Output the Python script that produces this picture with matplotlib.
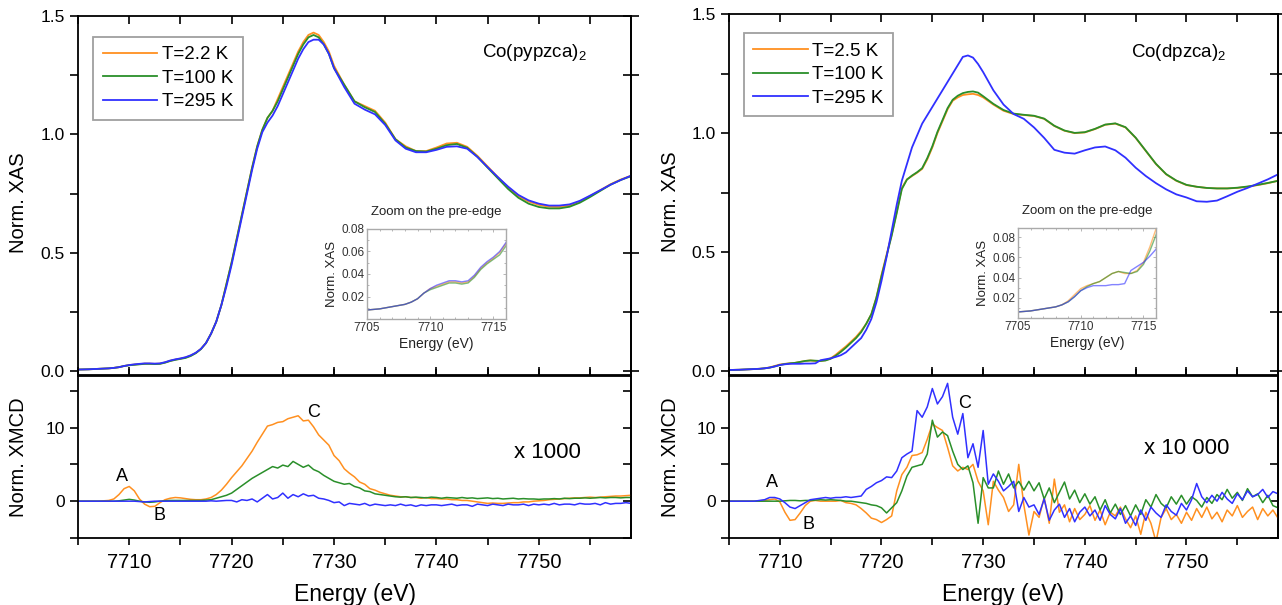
import numpy as np
import matplotlib
matplotlib.use("Agg")
import matplotlib.pyplot as plt
from matplotlib.ticker import MultipleLocator

plt.rcParams["font.family"] = ["Liberation Sans", "DejaVu Sans"]
plt.rcParams["mathtext.fontset"] = "custom"
plt.rcParams["mathtext.rm"] = "Liberation Sans"
plt.rcParams["mathtext.it"] = "Liberation Sans:italic"

ORANGE = "#ff9020"
GREEN = "#2a8f2a"
BLUE = "#3030ff"

# ---------------------------------------------------------------------------
# XAS data (0.5 eV steps up to 7730, then 1 eV steps)
# ---------------------------------------------------------------------------
energy_xas = np.concatenate([np.arange(7705, 7730, 0.5), np.arange(7730, 7760, 1.0)])

labels_left = ["T=2.2 K", "T=100 K", "T=295 K"]
labels_right = ["T=2.5 K", "T=100 K", "T=295 K"]

xas_left_2K = [
    0.008, 0.0085, 0.009, 0.010, 0.011, 0.012, 0.013, 0.015, 0.018, 0.023,
    0.027, 0.029, 0.031, 0.033, 0.033, 0.032, 0.033, 0.038, 0.045, 0.050,
    0.054, 0.059, 0.067, 0.078, 0.095, 0.12, 0.16, 0.21, 0.28, 0.37,
    0.46, 0.56, 0.66, 0.76, 0.86, 0.95, 1.02, 1.07, 1.10, 1.15,
    1.20, 1.25, 1.30, 1.35, 1.39, 1.42, 1.43, 1.42, 1.39, 1.35,
    1.29, 1.21, 1.14, 1.12, 1.10, 1.05, 0.98, 0.95, 0.93, 0.93,
    0.945, 0.962, 0.965, 0.948, 0.91, 0.865, 0.82, 0.777, 0.74, 0.717,
    0.703, 0.695, 0.694, 0.70, 0.717, 0.74, 0.765, 0.79, 0.81, 0.826,
]
xas_left_100K = [
    0.008, 0.0085, 0.009, 0.010, 0.011, 0.012, 0.013, 0.015, 0.018, 0.023,
    0.026, 0.028, 0.030, 0.032, 0.032, 0.031, 0.032, 0.037, 0.044, 0.049,
    0.053, 0.057, 0.065, 0.077, 0.094, 0.12, 0.16, 0.21, 0.28, 0.37,
    0.46, 0.56, 0.66, 0.76, 0.86, 0.95, 1.02, 1.07, 1.10, 1.14,
    1.19, 1.24, 1.29, 1.34, 1.38, 1.41, 1.42, 1.41, 1.38, 1.34,
    1.28, 1.21, 1.14, 1.115, 1.095, 1.045, 0.98, 0.945, 0.93, 0.928,
    0.94, 0.955, 0.96, 0.944, 0.906, 0.86, 0.815, 0.77, 0.733, 0.708,
    0.694, 0.688, 0.688, 0.695, 0.712, 0.736, 0.762, 0.788, 0.808, 0.824,
]
xas_left_295K = [
    0.008, 0.0085, 0.009, 0.010, 0.011, 0.012, 0.013, 0.015, 0.018, 0.023,
    0.027, 0.030, 0.032, 0.034, 0.034, 0.033, 0.034, 0.039, 0.046, 0.051,
    0.055, 0.060, 0.068, 0.079, 0.095, 0.12, 0.16, 0.21, 0.28, 0.36,
    0.45, 0.55, 0.65, 0.75, 0.85, 0.94, 1.01, 1.05, 1.08, 1.12,
    1.17, 1.22, 1.27, 1.32, 1.36, 1.39, 1.40, 1.40, 1.38, 1.34,
    1.28, 1.20, 1.13, 1.105, 1.085, 1.04, 0.975, 0.94, 0.925, 0.925,
    0.935, 0.948, 0.95, 0.94, 0.905, 0.862, 0.82, 0.78, 0.745, 0.722,
    0.708, 0.70, 0.70, 0.705, 0.72, 0.742, 0.765, 0.788, 0.808, 0.826,
]

xas_right_2K = [
    0.006, 0.0065, 0.007, 0.008, 0.009, 0.010, 0.011, 0.013, 0.017, 0.023,
    0.029, 0.032, 0.034, 0.036, 0.040, 0.044, 0.046, 0.044, 0.044, 0.047,
    0.055, 0.07, 0.088, 0.105, 0.125, 0.145, 0.17, 0.20, 0.24, 0.31,
    0.405, 0.49, 0.574, 0.67, 0.77, 0.806, 0.82, 0.834, 0.85, 0.89,
    0.94, 1.00, 1.05, 1.10, 1.136, 1.15, 1.16, 1.163, 1.165, 1.16,
    1.15, 1.12, 1.094, 1.08, 1.076, 1.072, 1.06, 1.03, 1.01, 1.0,
    1.003, 1.017, 1.035, 1.04, 1.024, 0.98, 0.925, 0.87, 0.827, 0.80,
    0.782, 0.775, 0.77, 0.768, 0.768, 0.77, 0.775, 0.782, 0.79, 0.80,
]
xas_right_100K = [
    0.006, 0.0065, 0.007, 0.008, 0.009, 0.010, 0.011, 0.013, 0.016, 0.021,
    0.027, 0.031, 0.034, 0.036, 0.040, 0.044, 0.046, 0.045, 0.044, 0.046,
    0.053, 0.066, 0.082, 0.10, 0.12, 0.14, 0.165, 0.20, 0.24, 0.31,
    0.40, 0.485, 0.57, 0.665, 0.765, 0.805, 0.822, 0.836, 0.853, 0.895,
    0.945, 1.005, 1.055, 1.105, 1.14, 1.157, 1.168, 1.173, 1.175, 1.17,
    1.155, 1.123, 1.097, 1.082, 1.077, 1.073, 1.061, 1.031, 1.011, 1.001,
    1.004, 1.018, 1.036, 1.041, 1.025, 0.981, 0.926, 0.871, 0.828, 0.801,
    0.783, 0.775, 0.77, 0.768, 0.768, 0.771, 0.776, 0.783, 0.791, 0.80,
]
xas_right_295K = [
    0.006, 0.0065, 0.007, 0.008, 0.009, 0.010, 0.011, 0.013, 0.016, 0.021,
    0.027, 0.030, 0.032, 0.032, 0.032, 0.033, 0.033, 0.034, 0.047, 0.051,
    0.055, 0.061, 0.068, 0.08, 0.10, 0.12, 0.14, 0.175, 0.22, 0.29,
    0.38, 0.48, 0.59, 0.70, 0.80, 0.87, 0.94, 0.99, 1.04, 1.075,
    1.11, 1.145, 1.18, 1.215, 1.25, 1.285, 1.32, 1.326, 1.317, 1.29,
    1.256, 1.18, 1.12, 1.08, 1.06, 1.024, 0.98, 0.93, 0.918, 0.914,
    0.928, 0.94, 0.944, 0.928, 0.897, 0.855, 0.82, 0.79, 0.764, 0.743,
    0.73, 0.714, 0.712, 0.717, 0.735, 0.754, 0.77, 0.788, 0.806, 0.827,
]

# ---------------------------------------------------------------------------
# XMCD data (0.5 eV steps, 7705 -> 7759)
# ---------------------------------------------------------------------------
energy_xmcd = np.arange(7705, 7759.01, 0.5)

xmcd_left_2K = [
    0.0, 0.0, 0.0, 0.0, 0.0, 0.05, 0.1, 0.3, 0.9, 1.7,
    2.0, 1.4, 0.3, -0.4, -0.75, -0.7, -0.2, 0.2, 0.4, 0.5,
    0.45, 0.35, 0.25, 0.2, 0.2, 0.3, 0.5, 0.9, 1.5, 2.3,
    3.2, 4.0, 4.8, 5.8, 6.8, 8.0, 9.1, 10.2, 10.4, 10.7,
    10.8, 11.2, 11.4, 11.6, 10.9, 11.0, 10.1, 9.0, 8.3, 7.6,
    6.2, 5.5, 4.4, 3.8, 3.3, 2.6, 2.3, 1.7, 1.5, 1.2,
    1.0, 0.8, 0.7, 0.6, 0.6, 0.5, 0.5, 0.4, 0.5, 0.35,
    0.35, 0.3, 0.3, 0.2, 0.2, 0.1, 0.1, 0.0, -0.1, -0.2,
    -0.3, -0.25, -0.3, -0.3, -0.25, -0.2, -0.2, -0.1, -0.1, 0.0,
    0.05, 0.1, 0.2, 0.25, 0.3, 0.35, 0.4, 0.45, 0.45, 0.5,
    0.55, 0.5, 0.55, 0.6, 0.65, 0.7, 0.7, 0.75, 0.8,
]
xmcd_left_100K = [
    0.0, 0.0, 0.0, 0.0, 0.0, 0.0, 0.0, 0.0, 0.05, 0.15,
    0.25, 0.15, 0.0, -0.1, -0.15, -0.1, 0.0, 0.05, 0.1, 0.1,
    0.1, 0.1, 0.1, 0.1, 0.1, 0.15, 0.2, 0.4, 0.6, 0.8,
    1.1, 1.6, 2.1, 2.6, 3.1, 3.5, 3.9, 4.3, 4.7, 4.5,
    4.9, 4.7, 5.4, 5.0, 4.6, 4.9, 4.3, 4.0, 3.5, 3.1,
    2.7, 2.5, 2.3, 2.4, 2.0, 1.8, 1.4, 1.3, 1.0, 0.9,
    0.8, 0.7, 0.6, 0.55, 0.6, 0.5, 0.55, 0.5, 0.45, 0.55,
    0.5, 0.4, 0.5, 0.45, 0.4, 0.5, 0.4, 0.45, 0.35, 0.4,
    0.45, 0.35, 0.4, 0.3, 0.35, 0.4, 0.3, 0.35, 0.3, 0.3,
    0.25, 0.3, 0.3, 0.35, 0.3, 0.4, 0.35, 0.4, 0.4, 0.45,
    0.4, 0.45, 0.5, 0.45, 0.5, 0.5, 0.45, 0.5, 0.5,
]
xmcd_left_295K = [
    0.0, 0.0, 0.0, 0.0, 0.0, 0.0, 0.0, 0.0, 0.0, 0.0,
    0.0, 0.0, -0.05, -0.1, -0.05, 0.0, 0.0, 0.0, 0.0, 0.0,
    0.0, 0.0, 0.0, 0.0, 0.0, 0.0, 0.05, 0.0, 0.05, 0.1,
    0.1, -0.1, 0.2, 0.1, 0.3, -0.1, 0.4, 0.9, 0.3, 0.5,
    1.1, 0.4, 0.9, 0.6, 1.0, 0.7, 0.8, 0.4, 0.3, 0.1,
    -0.2, -0.1, -0.6, -0.3, -0.4, -0.5, -0.3, -0.6, -0.4, -0.5,
    -0.6, -0.5, -0.6, -0.4, -0.6, -0.5, -0.7, -0.5, -0.6, -0.5,
    -0.5, -0.6, -0.5, -0.4, -0.6, -0.5, -0.5, -0.7, -0.4, -0.5,
    -0.6, -0.4, -0.5, -0.6, -0.4, -0.5, -0.5, -0.4, -0.6, -0.4,
    -0.5, -0.4, -0.5, -0.3, -0.5, -0.4, -0.4, -0.5, -0.3, -0.4,
    -0.4, -0.3, -0.5, -0.2, -0.4, -0.3, -0.3, -0.2, -0.3,
]

xmcd_right_2K = [
    0.0, 0.0, 0.0, 0.0, 0.0, 0.0, 0.05, 0.1, 0.2, 0.3,
    -0.1, -1.5, -2.6, -2.5, -1.6, -0.6, 0.0, 0.1, 0.0, 0.0,
    0.0, 0.0, 0.1, -0.2, -0.3, -0.5, -1.0, -1.6, -2.3, -2.5,
    -2.9, -2.5, -2.0, 1.4, 3.6, 4.6, 6.2, 6.3, 6.6, 8.4,
    10.5, 10.0, 9.6, 7.3, 4.8, 4.1, 4.6, 4.3, 5.0, 2.7,
    1.4, -3.2, 2.7, 1.5, 0.5, -1.4, -0.5, 5.0, -0.5, -4.6,
    -1.4, -2.2, 0.5, -3.0, 3.0, -1.5, -0.5, -2.8, -1.0, -2.5,
    -1.8, -0.6, -2.6, -1.2, -3.2, -1.5, -2.0, -0.8, -2.4, -3.6,
    -2.0, -4.5, -1.5, -3.0, -5.5, -2.2, -1.0, -2.5, -1.8, -3.0,
    -1.5, -2.6, -1.0, -2.2, -0.8, -2.4, -1.5, -2.8, -1.2, -2.0,
    -0.6, -2.2, -1.4, -0.8, -2.5, -1.0, -2.0, -1.2, -2.3,
]
xmcd_right_100K = [
    0.0, 0.0, 0.0, 0.0, 0.0, 0.0, 0.0, 0.0, 0.0, 0.0,
    0.0, 0.05, 0.1, 0.1, 0.05, 0.1, 0.1, 0.15, 0.2, 0.15,
    0.2, 0.15, 0.1, 0.0, 0.0, -0.1, -0.2, -0.3, -0.5, -0.6,
    -0.9, -1.6, -0.9, -0.2, 1.4, 3.4, 4.6, 4.8, 5.0, 6.4,
    11.0, 8.7, 9.4, 8.9, 6.8, 5.0, 4.3, 4.8, 2.5, -3.0,
    3.2, 1.8, 1.8, 4.1, 2.3, 3.7, 1.8, 2.7, 1.5, 2.7,
    1.4, 2.5, 0.3, 1.8, -0.2, 1.2, 2.6, 0.3, 1.5, -0.2,
    1.0, -0.4, 0.6, -1.2, 0.2, -1.6, -0.4, -1.8, -0.6, -2.0,
    -0.5, -1.8, 0.2, -0.8, 0.9, -0.3, -0.9, 0.6, -0.4, 0.8,
    -0.4, 0.6, 0.1, -0.8, 0.5, -0.3, 0.9, 0.2, 1.6, 0.4,
    1.2, 0.1, 1.7, 0.6, 1.0, -0.2, 0.8, -0.6, -0.9,
]
xmcd_right_295K = [
    0.0, 0.0, 0.0, 0.0, 0.0, 0.0, 0.1, 0.2, 0.5, 0.5,
    0.3, -0.2, -0.8, -1.0, -0.6, -0.2, 0.2, 0.3, 0.4, 0.5,
    0.4, 0.5, 0.5, 0.6, 0.5, 0.6, 0.7, 1.6, 2.0, 2.5,
    2.8, 3.3, 3.2, 4.1, 5.9, 6.4, 6.8, 12.3, 11.4, 12.8,
    15.3, 13.2, 14.2, 16.0, 11.4, 9.1, 11.9, 5.9, 7.8, 4.6,
    9.6, 2.3, 3.7, 2.7, 1.4, 2.0, 2.7, -1.4, 0.5, -0.8,
    -0.5, -1.8, 0.3, -2.6, -1.2, -0.4, -2.2, -1.0, -2.8, -1.5,
    -0.8, -2.0, -1.2, -2.6, -0.6, -1.8, -2.4, -1.0, -3.0, -2.0,
    -3.3, -1.2, -2.6, -0.8, -1.6, -2.2, -0.5, -1.4, -1.9, -0.3,
    -1.2, 0.2, 2.4, 0.6, -0.2, 0.8, 0.0, 1.2, 0.3, -0.3,
    1.0, 0.2, 1.4, 0.6, 0.9, 1.6, 0.5, 1.3, 1.0,
]

colors = [ORANGE, GREEN, BLUE]

# ---------------------------------------------------------------------------
# Figure and axes layout (pixel boxes of the 1282x605 canvas)
# ---------------------------------------------------------------------------
fig = plt.figure(figsize=(12.82, 6.05), dpi=100)

W, H = 1282.0, 605.0


def frac(x0, y0, x1, y1):
    return [x0 / W, 1 - y1 / H, (x1 - x0) / W, (y1 - y0) / H]


ax_tl = fig.add_axes(frac(78, 16, 631, 375))
ax_bl = fig.add_axes(frac(78, 376, 631, 538))
ax_tr = fig.add_axes(frac(729, 14, 1278, 375))
ax_br = fig.add_axes(frac(729, 376, 1278, 538))
ax_il = fig.add_axes(frac(367, 229, 506, 319))
ax_ir = fig.add_axes(frac(1018, 228, 1156, 318))


def style_top(ax):
    ax.set_xlim(7705, 7759)
    ax.set_ylim(-0.015, 1.5)
    ax.yaxis.set_major_locator(MultipleLocator(0.5))
    ax.yaxis.set_minor_locator(MultipleLocator(0.25))
    ax.xaxis.set_major_locator(MultipleLocator(5))
    ax.tick_params(axis="y", which="both", left=True, right=False, direction="out",
                   length=6, width=1.2, labelsize=12.5)
    ax.tick_params(axis="x", which="major", top=True, bottom=True, direction="in",
                   length=6, width=1.2, labelbottom=False)
    # inward ticks on the right-hand frame
    for t in ax.yaxis.get_major_ticks() + ax.yaxis.get_minor_ticks():
        t.tick2line.set_visible(True)
    sec = ax.secondary_yaxis("right")
    sec.yaxis.set_major_locator(MultipleLocator(0.25))
    sec.tick_params(direction="in", length=6, width=1.2, labelright=False)
    sec.spines["right"].set_linewidth(1.3)
    for s in ax.spines.values():
        s.set_linewidth(1.3)
    ax.set_ylabel("Norm. XAS", fontsize=14.5)
    ax.yaxis.set_label_coords(-0.09, 0.48)


def style_bottom(ax):
    ax.set_xlim(7705, 7759)
    ax.set_ylim(-5, 17)
    ax.yaxis.set_major_locator(MultipleLocator(10))
    ax.yaxis.set_minor_locator(MultipleLocator(5))
    ax.xaxis.set_major_locator(MultipleLocator(10))
    ax.xaxis.set_minor_locator(MultipleLocator(5))
    ax.tick_params(axis="y", which="both", left=True, right=False, direction="out",
                   length=6, width=1.2, labelsize=12.5)
    sec = ax.secondary_yaxis("right")
    sec.yaxis.set_major_locator(MultipleLocator(5))
    sec.tick_params(direction="in", length=6, width=1.2, labelright=False)
    sec.spines["right"].set_linewidth(1.3)
    ax.tick_params(axis="x", which="both", bottom=True, top=True, direction="out",
                   length=5, width=1.2, labelsize=14.5, pad=6)
    for s in ax.spines.values():
        s.set_linewidth(1.3)
    ax.set_ylabel("Norm. XMCD", fontsize=14.5)
    ax.yaxis.set_label_coords(-0.09, 0.5)
    ax.set_xlabel("Energy (eV)", fontsize=16.5, labelpad=8)


def style_inset(ax, ymax):
    ax.set_xlim(7705, 7716)
    ax.set_ylim(0.0, ymax)
    ax.set_xticks([7705, 7710, 7715])
    ax.set_yticks([0.02, 0.04, 0.06, 0.08])
    ax.xaxis.set_minor_locator(MultipleLocator(1))
    ax.yaxis.set_minor_locator(MultipleLocator(0.01))
    ax.tick_params(which="both", direction="in", top=True, right=True,
                   color="#aaaaaa", labelsize=8.5, length=2, width=0.6, pad=2,
                   labelcolor="#333333")
    ax.tick_params(which="minor", length=1.2)
    for s in ax.spines.values():
        s.set_color("#aaaaaa")
        s.set_linewidth(1.0)
    ax.set_title("Zoom on the pre-edge", fontsize=9.5, pad=10, color="#222222")
    ax.set_xlabel("Energy (eV)", fontsize=10, labelpad=2, color="#222222")
    ax.set_ylabel("Norm. XAS", fontsize=9.5, labelpad=2, color="#222222")


def add_legend(ax, anchor):
    leg = ax.legend(loc="upper left", bbox_to_anchor=anchor, borderaxespad=0,
                    fontsize=13.5, handlelength=2.9, handletextpad=0.25,
                    labelspacing=0.34, fancybox=False, borderpad=0.5)
    leg.get_frame().set_edgecolor("#888888")
    leg.get_frame().set_linewidth(1.3)


# ---------------------------------------------------------------------------
# Left column: Co(pypzca)2
# ---------------------------------------------------------------------------
for ys, c, lab in zip([xas_left_2K, xas_left_100K, xas_left_295K], colors, labels_left):
    ax_tl.plot(energy_xas, ys, color=c, lw=1.3, label=lab)
    ax_il.plot(energy_xas, ys, color=c, lw=1.0, alpha=0.6)
style_top(ax_tl)
ax_tl.text(7749.6, 1.345, "Co(pypzca)$_2$", fontsize=13.5, ha="center", va="center")
add_legend(ax_tl, (0.028, 0.942))
style_inset(ax_il, 0.08)

for ys, c in zip([xmcd_left_2K, xmcd_left_100K, xmcd_left_295K], colors):
    ax_bl.plot(energy_xmcd, ys, color=c, lw=1.1)
style_bottom(ax_bl)
ax_bl.text(7709.3, 3.4, "A", fontsize=13, ha="center", va="center")
ax_bl.text(7713.0, -1.9, "B", fontsize=13, ha="center", va="center")
ax_bl.text(7728.0, 12.0, "C", fontsize=13, ha="center", va="center")
ax_bl.text(7750.8, 6.6, "x 1000", fontsize=16, ha="center", va="center")

# ---------------------------------------------------------------------------
# Right column: Co(dpzca)2
# ---------------------------------------------------------------------------
for ys, c, lab in zip([xas_right_2K, xas_right_100K, xas_right_295K], colors, labels_right):
    ax_tr.plot(energy_xas, ys, color=c, lw=1.3, label=lab)
    ax_ir.plot(energy_xas, ys, color=c, lw=1.0, alpha=0.6)
style_top(ax_tr)
ax_tr.text(7749.2, 1.34, "Co(dpzca)$_2$", fontsize=13.5, ha="center", va="center")
add_legend(ax_tr, (0.027, 0.947))
style_inset(ax_ir, 0.089)

for ys, c in zip([xmcd_right_2K, xmcd_right_100K, xmcd_right_295K], colors):
    ax_br.plot(energy_xmcd, ys, color=c, lw=1.1)
style_bottom(ax_br)
ax_br.text(7709.2, 2.5, "A", fontsize=13, ha="center", va="center")
ax_br.text(7712.8, -3.1, "B", fontsize=13, ha="center", va="center")
ax_br.text(7728.2, 13.3, "C", fontsize=13, ha="center", va="center")
ax_br.text(7750.0, 7.1, "x 10 000", fontsize=16, ha="center", va="center")

fig.savefig("out.png", dpi=100)
